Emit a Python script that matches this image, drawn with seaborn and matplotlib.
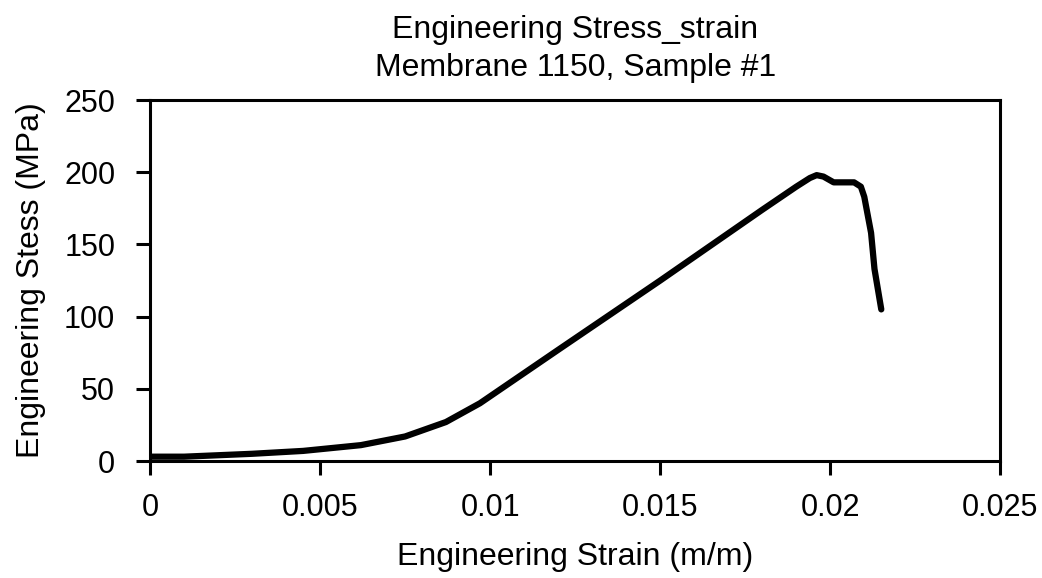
import pandas as pd
import seaborn as sns
import matplotlib.pyplot as plt

# valores
strain = [0.0, 0.0010, 0.0020, 0.0030, 0.0045, 0.0062, 0.0075, 0.0087, 0.0097,
          0.0120, 0.0150, 0.0180, 0.0190, 0.0194, 0.0196, 0.0198, 0.0201,
          0.0207, 0.0209, 0.0210, 0.0212, 0.0213, 0.0215]
stress = [3, 3, 4, 5, 7, 11, 17, 27, 40,
          77, 125, 174, 190, 196, 198, 197, 193,
          193, 190, 183, 158, 133, 105]

df = pd.DataFrame({'strain': strain, 'stress': stress})

sns.set_style('ticks')
plt.rcParams['font.family'] = ['Liberation Sans', 'DejaVu Sans']
plt.rcParams['text.color'] = 'black'
plt.rcParams['axes.labelcolor'] = 'black'
plt.rcParams['xtick.color'] = 'black'
plt.rcParams['ytick.color'] = 'black'

fig = plt.figure(figsize=(10.42, 5.78), dpi=100)
ax = fig.add_axes([0.144, 0.2024, 0.816, 0.6245])

sns.lineplot(data=df, x='strain', y='stress', sort=False, color='black',
             linewidth=4.5, ax=ax)
ax.lines[0].set_solid_joinstyle('round')
ax.lines[0].set_solid_capstyle('round')

ax.set_xlim(0, 0.025)
ax.set_ylim(0, 250)
ax.set_xticks([0, 0.005, 0.01, 0.015, 0.02, 0.025])
ax.set_xticklabels(['0', '0.005', '0.01', '0.015', '0.02', '0.025'])
ax.set_yticks([0, 50, 100, 150, 200, 250])
for s in ax.spines.values():
    s.set_visible(True)
    s.set_linewidth(2.2)
    s.set_color('black')
ax.tick_params(axis='both', labelsize=22, width=2.2, length=10, direction='out')
ax.tick_params(axis='x', pad=13)
ax.tick_params(axis='y', pad=15)

ax.set_xlabel('Engineering Strain (m/m)', fontsize=23, labelpad=14)
ax.set_ylabel('Engineering Stess (MPa)', fontsize=23, labelpad=13)
ax.set_title('Engineering Stress_strain\nMembrane 1150, Sample #1', fontsize=23,
             linespacing=1.35, pad=17)

plt.savefig('out.png', dpi=100)
